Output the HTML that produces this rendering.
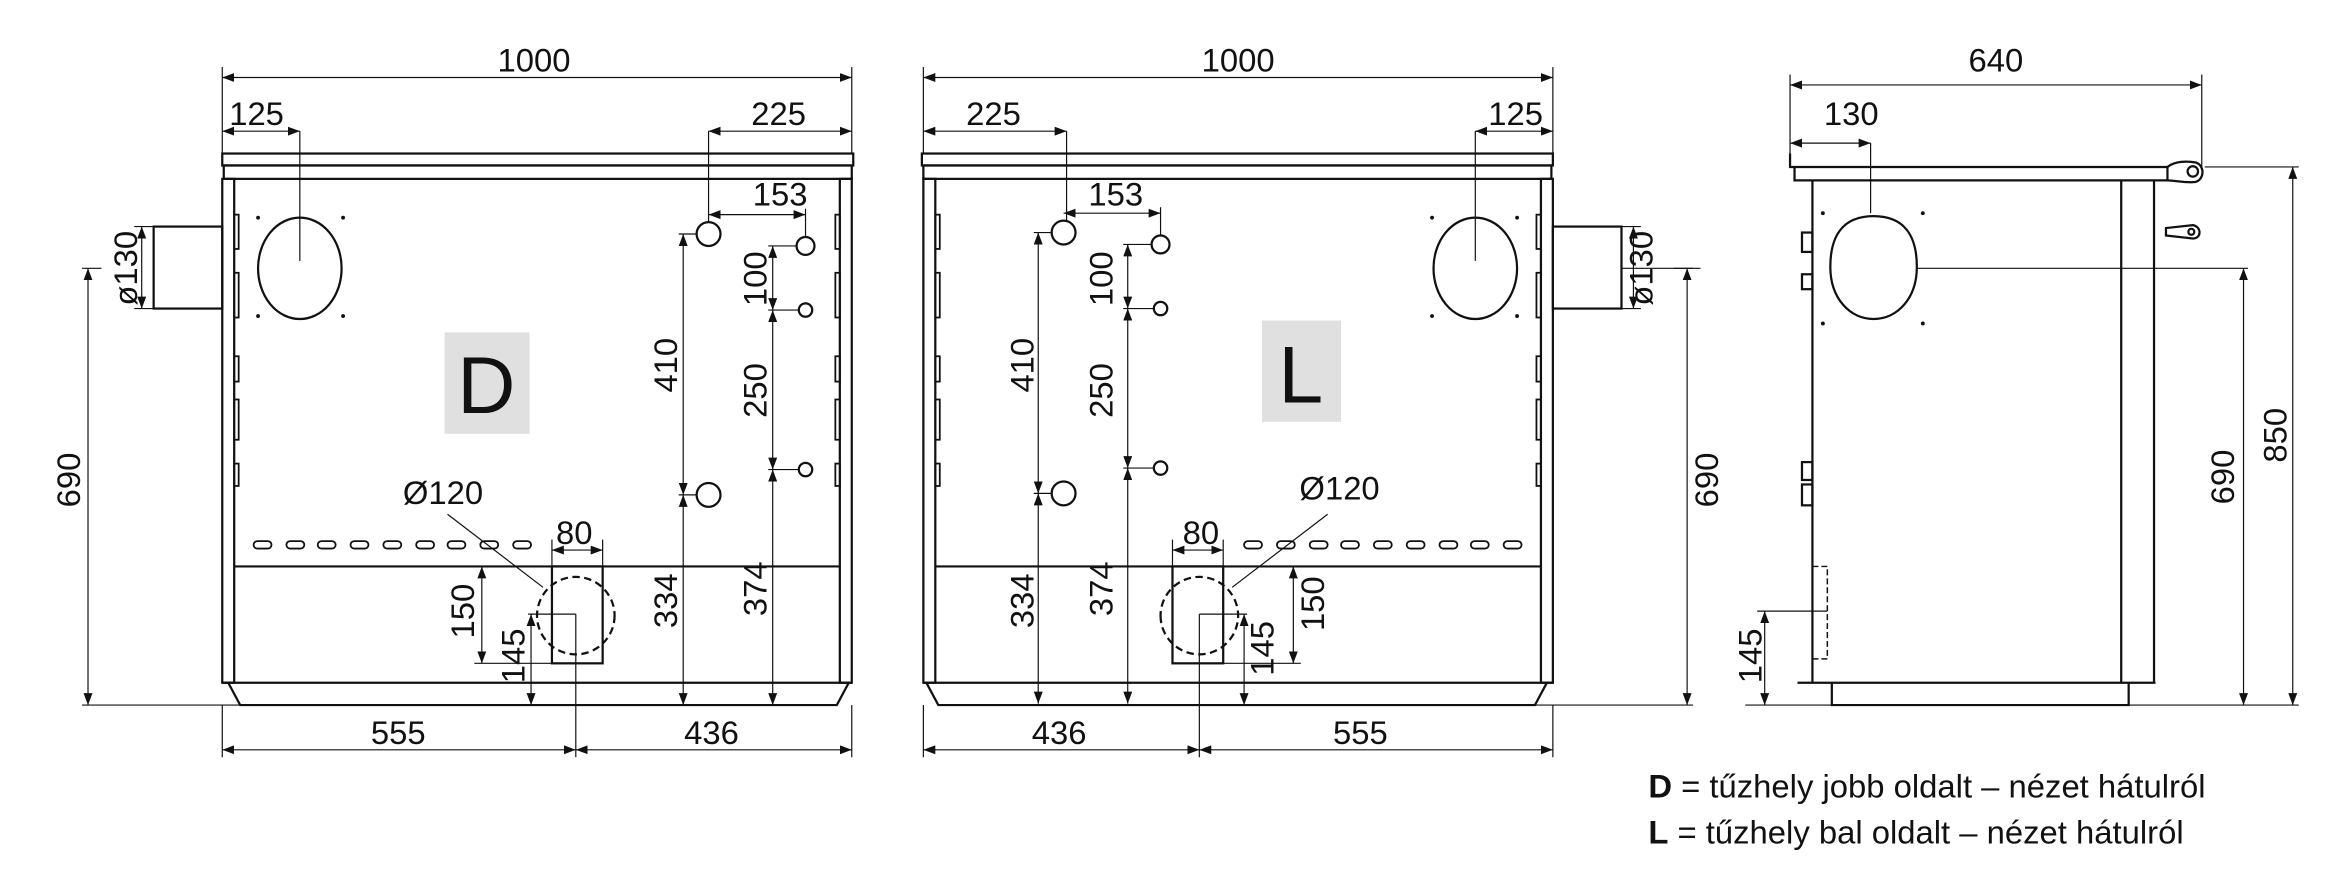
<!DOCTYPE html>
<html><head><meta charset="utf-8"><style>
html,body{margin:0;padding:0;background:#fff;}
svg{display:block;}
text{font-family:"Liberation Sans",sans-serif;font-size:22px;fill:#111;}
</style></head><body>
<svg width="2339" height="875" viewBox="0 0 1568 587" preserveAspectRatio="none" xmlns="http://www.w3.org/2000/svg">
<defs>
<marker id="a" viewBox="0 0 8 6" refX="8" refY="3" markerWidth="8" markerHeight="6" markerUnits="userSpaceOnUse" orient="auto-start-reverse"><path d="M0,0 L8,3 L0,6 z" fill="#111"/></marker>
</defs>

<g id="body">
 <g fill="none" stroke="#111" stroke-width="1.5">
  <rect x="149" y="103" width="423" height="8"/>
  <rect x="150" y="111" width="421" height="9"/>
  <rect x="149" y="120" width="8" height="338"/>
  <rect x="563" y="120" width="8" height="338"/>
  <line x1="157" y1="380" x2="563" y2="380"/>
  <line x1="149" y1="458" x2="571" y2="458"/>
  <path d="M153,458 L161,473 L561,473 L569,458"/>
  <rect x="103" y="152" width="46" height="55"/>
  <ellipse cx="201" cy="180" rx="28" ry="34"/>
  <rect x="370" y="380" width="34" height="65"/>
  <circle cx="386" cy="413" r="26" stroke-dasharray="5,3"/>
  <g stroke-width="1.2">
   <rect x="157" y="144" width="3" height="23"/><rect x="157" y="183" width="3" height="30"/>
   <rect x="157" y="239" width="3" height="17"/><rect x="157" y="268" width="3" height="27"/>
   <rect x="157" y="311" width="3" height="15"/>
   <rect x="560" y="144" width="3" height="23"/><rect x="560" y="183" width="3" height="30"/>
   <rect x="560" y="239" width="3" height="17"/><rect x="560" y="268" width="3" height="27"/>
   <rect x="560" y="311" width="3" height="15"/>
   <rect x="170" y="363" width="12" height="5" rx="2.5"/><rect x="192" y="363" width="12" height="5" rx="2.5"/>
   <rect x="213" y="363" width="12" height="5" rx="2.5"/><rect x="235" y="363" width="12" height="5" rx="2.5"/>
   <rect x="257" y="363" width="12" height="5" rx="2.5"/><rect x="279" y="363" width="12" height="5" rx="2.5"/>
   <rect x="300" y="363" width="12" height="5" rx="2.5"/><rect x="322" y="363" width="12" height="5" rx="2.5"/>
   <rect x="344" y="363" width="12" height="5" rx="2.5"/>
  </g>
 </g>
 <g fill="#111"><circle cx="173" cy="146" r="1.3"/><circle cx="230" cy="146" r="1.3"/><circle cx="173" cy="212" r="1.3"/><circle cx="230" cy="212" r="1.3"/></g>
 <g stroke="#111" stroke-width="0.8" fill="none">
  <line x1="149" y1="45" x2="149" y2="103"/><line x1="571" y1="45" x2="571" y2="103"/>
  <line x1="149" y1="52" x2="571" y2="52" marker-start="url(#a)" marker-end="url(#a)"/>
  <line x1="149" y1="88" x2="201" y2="88" marker-start="url(#a)" marker-end="url(#a)"/>
  <line x1="201" y1="88" x2="201" y2="175"/>
  <line x1="475" y1="88" x2="571" y2="88" marker-start="url(#a)" marker-end="url(#a)"/>
  <line x1="475" y1="88" x2="475" y2="149"/>
  <line x1="90" y1="152" x2="103" y2="152"/><line x1="90" y1="207" x2="103" y2="207"/>
  <line x1="95" y1="152" x2="95" y2="207" marker-start="url(#a)" marker-end="url(#a)"/>
  <line x1="55" y1="180" x2="68" y2="180"/>
  <line x1="59" y1="180" x2="59" y2="473" marker-start="url(#a)" marker-end="url(#a)"/>
  <line x1="55" y1="473" x2="161" y2="473"/>
  <line x1="370" y1="362" x2="370" y2="380"/><line x1="404" y1="362" x2="404" y2="380"/>
  <line x1="370" y1="369" x2="404" y2="369" marker-start="url(#a)" marker-end="url(#a)"/>
  <line x1="318" y1="380" x2="370" y2="380"/><line x1="318" y1="445" x2="370" y2="445"/>
  <line x1="323" y1="380" x2="323" y2="445" marker-start="url(#a)" marker-end="url(#a)"/>
  <line x1="354" y1="412" x2="386" y2="412"/>
  <line x1="356" y1="412" x2="356" y2="473" marker-start="url(#a)" marker-end="url(#a)"/>
  <line x1="386" y1="412" x2="386" y2="508"/>
  <line x1="149" y1="473" x2="149" y2="508"/><line x1="571" y1="473" x2="571" y2="508"/>
  <line x1="149" y1="503" x2="386" y2="503" marker-start="url(#a)" marker-end="url(#a)"/>
  <line x1="386" y1="503" x2="571" y2="503" marker-start="url(#a)" marker-end="url(#a)"/>
  <line x1="300" y1="345" x2="364" y2="394"/>
 </g>
</g>
<use href="#body" transform="translate(1190,0) scale(-1,1)"/>

<g id="pipes">
 <g fill="none" stroke="#111" stroke-width="1.5">
  <circle cx="475" cy="157" r="8"/><circle cx="540" cy="165" r="6"/>
  <circle cx="540" cy="208" r="4.5"/><circle cx="540" cy="315" r="4.5"/>
  <circle cx="475" cy="332" r="8"/>
 </g>
 <g stroke="#111" stroke-width="0.8" fill="none">
  <line x1="540" y1="140" x2="540" y2="159"/>
  <line x1="475" y1="144" x2="540" y2="144" marker-start="url(#a)" marker-end="url(#a)"/>
  <line x1="455" y1="157" x2="467" y2="157"/><line x1="455" y1="332" x2="467" y2="332"/>
  <line x1="458" y1="157" x2="458" y2="332" marker-start="url(#a)" marker-end="url(#a)"/>
  <line x1="458" y1="332" x2="458" y2="473" marker-start="url(#a)" marker-end="url(#a)"/>
  <line x1="515" y1="165" x2="534" y2="165"/><line x1="515" y1="208" x2="535" y2="208"/><line x1="515" y1="315" x2="535" y2="315"/>
  <line x1="518" y1="165" x2="518" y2="208" marker-start="url(#a)" marker-end="url(#a)"/>
  <line x1="518" y1="208" x2="518" y2="315" marker-start="url(#a)" marker-end="url(#a)"/>
  <line x1="518" y1="315" x2="518" y2="473" marker-start="url(#a)" marker-end="url(#a)"/>
 </g>
</g>
<use href="#pipes" transform="translate(238,-1)"/>

<rect x="298" y="223" width="57" height="68" fill="#e0e0e0"/>
<text x="326" y="277" text-anchor="middle" style="font-size:54px">D</text>
<rect x="846" y="215" width="53" height="68" fill="#e0e0e0"/>
<text x="872" y="270" text-anchor="middle" style="font-size:54px">L</text>

<g text-anchor="middle">
 <text x="358" y="48">1000</text><text x="172" y="84">125</text><text x="522" y="84">225</text>
 <text x="523" y="138">153</text><text x="297" y="338">Ø120</text><text x="385" y="365">80</text>
 <text x="267" y="499">555</text><text x="477" y="499">436</text>
 <text x="830" y="48">1000</text><text x="666" y="84">225</text><text x="1016" y="84">125</text>
 <text x="748" y="138">153</text><text x="898" y="335">Ø120</text><text x="805" y="365">80</text>
 <text x="710" y="499">436</text><text x="912" y="499">555</text>
 <text x="1338" y="48">640</text><text x="1241" y="84">130</text>
 <g dominant-baseline="central">
  <text transform="translate(84,180) rotate(-90)">ø130</text>
  <text transform="translate(46,322) rotate(-90)">690</text>
  <text transform="translate(446,245) rotate(-90)">410</text>
  <text transform="translate(446,403) rotate(-90)">334</text>
  <text transform="translate(506,187) rotate(-90)">100</text>
  <text transform="translate(506,262) rotate(-90)">250</text>
  <text transform="translate(506,395) rotate(-90)">374</text>
  <text transform="translate(310,410) rotate(-90)">150</text>
  <text transform="translate(344,440) rotate(-90)">145</text>
  <text transform="translate(685,245) rotate(-90)">410</text>
  <text transform="translate(685,403) rotate(-90)">334</text>
  <text transform="translate(738,187) rotate(-90)">100</text>
  <text transform="translate(738,262) rotate(-90)">250</text>
  <text transform="translate(738,395) rotate(-90)">374</text>
  <text transform="translate(880,405) rotate(-90)">150</text>
  <text transform="translate(846,435) rotate(-90)">145</text>
  <text transform="translate(1100,180) rotate(-90)">ø130</text>
  <text transform="translate(1144,322) rotate(-90)">690</text>
  <text transform="translate(1173,440) rotate(-90)">145</text>
  <text transform="translate(1490,320) rotate(-90)">690</text>
  <text transform="translate(1525,292) rotate(-90)">850</text>
 </g>
</g>

<g stroke="#111" stroke-width="0.8" fill="none">
 <line x1="1087" y1="180" x2="1140" y2="180"/>
</g>

<!-- side view -->
<g fill="none" stroke="#111" stroke-width="1.5">
 <path d="M1200,103 L1200,112 L1203,112 L1203,121 L1453,121 L1453,112 L1203,112"/>
 <line x1="1215" y1="121" x2="1215" y2="458"/>
 <line x1="1422" y1="121" x2="1422" y2="458"/>
 <line x1="1444" y1="121" x2="1444" y2="458"/>
 <line x1="1205" y1="458" x2="1445" y2="458"/>
 <path d="M1228,458 L1228,473 L1427,473 L1427,458"/>
 <path d="M1256,145 C1278,145 1285,160 1285,179 C1285,200 1272,214 1256,214 C1240,214 1227,200 1227,179 C1227,160 1234,145 1256,145 z"/>
 <path d="M1453,112 C1458,108 1466,108 1472,109 C1478,111 1478,120 1472,122 C1466,123 1458,121 1453,121"/>
 <circle cx="1470" cy="115" r="3.5"/>
 <path d="M1452,153 L1470,151 C1476,152 1476,160 1470,160 L1452,158 z"/>
 <circle cx="1469" cy="155.5" r="2"/>
 <rect x="1208" y="156" width="7" height="13"/><rect x="1208" y="184" width="7" height="10"/>
 <rect x="1208" y="310" width="7" height="12"/><rect x="1208" y="325" width="7" height="14"/>
 <path d="M1215,380 L1225,380 L1225,442 L1215,442" stroke-dasharray="4,2" stroke-width="1"/>
</g>
<g fill="#111"><circle cx="1222" cy="143" r="1.3"/><circle cx="1289" cy="143" r="1.3"/><circle cx="1222" cy="217" r="1.3"/><circle cx="1289" cy="217" r="1.3"/></g>
<g stroke="#111" stroke-width="0.8" fill="none">
 <line x1="1200" y1="50" x2="1200" y2="103"/><line x1="1476" y1="50" x2="1476" y2="112"/>
 <line x1="1200" y1="57" x2="1476" y2="57" marker-start="url(#a)" marker-end="url(#a)"/>
 <line x1="1200" y1="96" x2="1254" y2="96" marker-start="url(#a)" marker-end="url(#a)"/>
 <line x1="1254" y1="96" x2="1254" y2="143"/>
 <line x1="1178" y1="410" x2="1225" y2="410"/>
 <line x1="1183" y1="410" x2="1183" y2="473" marker-start="url(#a)" marker-end="url(#a)"/>
 <line x1="1285" y1="180" x2="1507" y2="180"/>
 <line x1="1504" y1="180" x2="1504" y2="473" marker-start="url(#a)" marker-end="url(#a)"/>
 <line x1="1478" y1="112" x2="1541" y2="112"/>
 <line x1="1537" y1="112" x2="1537" y2="473" marker-start="url(#a)" marker-end="url(#a)"/>
 <line x1="1170" y1="473" x2="1541" y2="473"/>
</g>

<text x="1105" y="535"><tspan font-weight="bold">D</tspan> = tűzhely jobb oldalt – nézet hátulról</text>
<text x="1105" y="566"><tspan font-weight="bold">L</tspan>  = tűzhely bal oldalt – nézet hátulról</text>
</svg>
</body></html>
